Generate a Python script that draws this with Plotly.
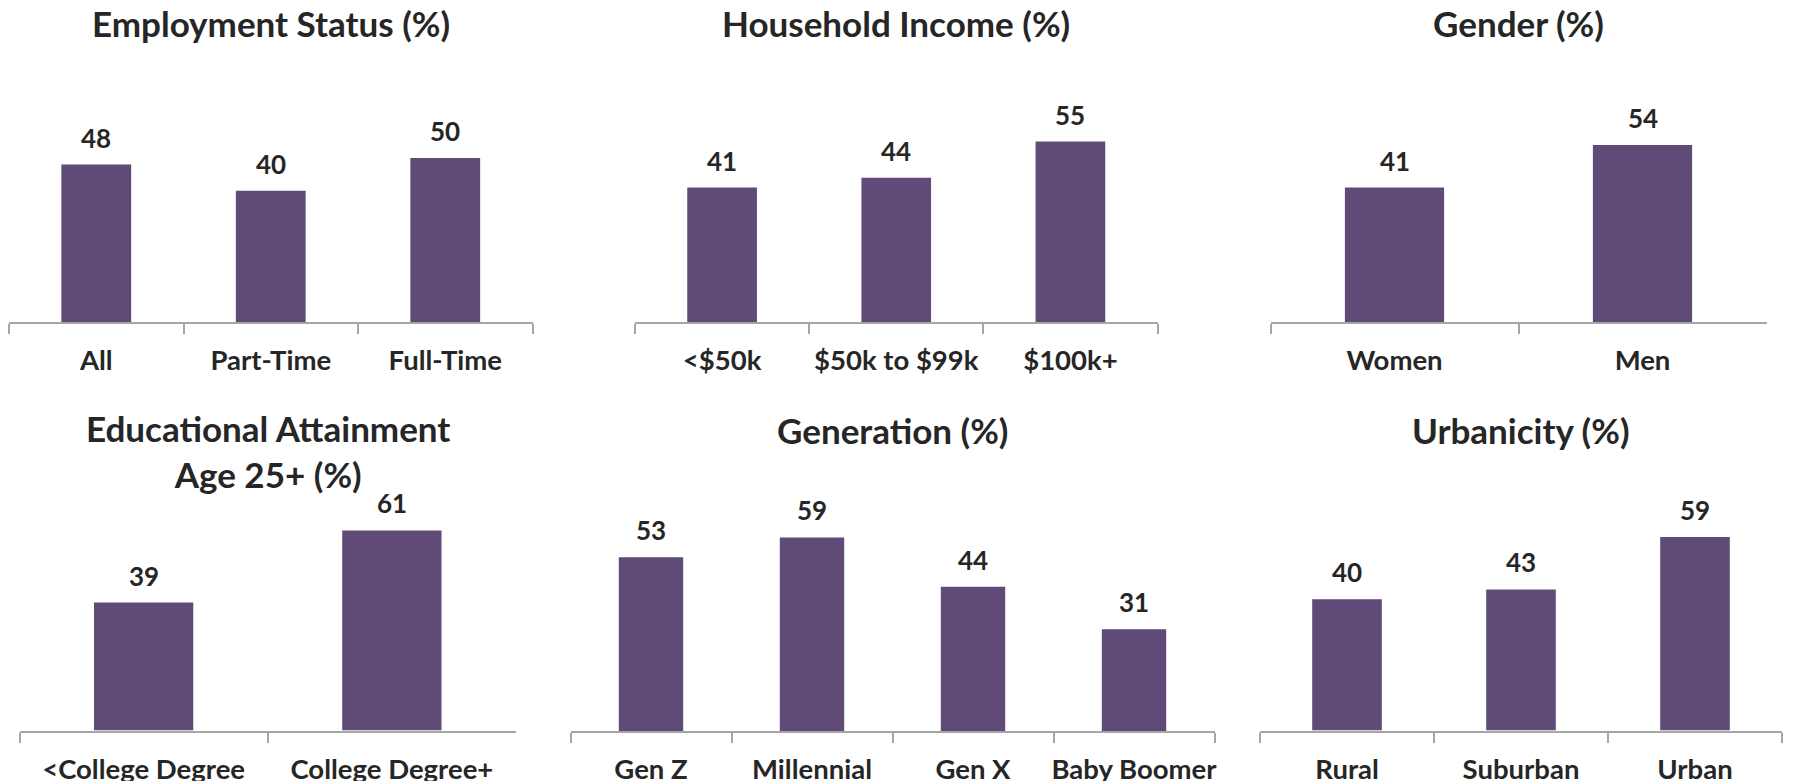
import plotly.graph_objects as go

# ---- data ----
emp_cats = ["All", "Part-Time", "Full-Time"]
emp_vals = [48, 40, 50]
inc_cats = ["<$50k", "$50k to $99k", "$100k+"]
inc_vals = [41, 44, 55]
gender_cats = ["Women", "Men"]
gender_vals = [41, 54]
edu_cats = ["<College Degree", "College Degree+"]
edu_vals = [39, 61]
gen_cats = ["Gen Z", "Millennial", "Gen X", "Baby Boomer"]
gen_vals = [53, 59, 44, 31]
urb_cats = ["Rural", "Suburban", "Urban"]
urb_vals = [40, 43, 59]

titles = ["Employment Status (%)", "Household Income (%)", "Gender (%)",
          "Educational Attainment<br>Age 25+ (%)", "Generation (%)", "Urbanicity (%)"]

# ---- layout geometry (page pixels) ----
W, H = 1793, 781
OFF = 8  # page body margin
PX_PER_UNIT = 3.28
panels = [
    # x0, x1, axis y, top y, title center y
    (9, 532.5, 322, 60, 23),
    (635, 1157.5, 322, 60, 23),
    (1270.5, 1766.5, 322, 60, 23),
    (19.5, 516, 730.5, 470, 451),
    (570.5, 1214.5, 731, 470, 430),
    (1260, 1782, 730.5, 470, 430),
]
series = [(emp_cats, emp_vals), (inc_cats, inc_vals), (gender_cats, gender_vals),
          (edu_cats, edu_vals), (gen_cats, gen_vals), (urb_cats, urb_vals)]

BAR = "#5f4a78"
TXT = "#262626"
AX = "#a6a6a6"
FONT = "Lato"


def fx(px):
    return (px - OFF) / W


def fy(py):
    return 1 - (py - OFF) / H


fig = go.Figure()
annotations = []
for i, ((cats, vals), (x0, x1, yb, yt, ty), title) in enumerate(zip(series, panels, titles)):
    n = i + 1
    xa = "x" if n == 1 else f"x{n}"
    ya = "y" if n == 1 else f"y{n}"
    fig.add_trace(go.Bar(x=cats, y=vals, marker=dict(color=BAR, line=dict(width=0)),
                         xaxis=xa, yaxis=ya, hoverinfo="x+y"))
    key = "" if n == 1 else str(n)
    fig.layout[f"xaxis{key}"] = dict(
        domain=[fx(x0), fx(x1)], anchor=ya, type="category",
        range=[-0.5, len(cats) - 0.5], tickson="boundaries",
        ticks="outside", ticklen=10, tickwidth=2, tickcolor=AX,
        showline=True, linecolor=AX, linewidth=2, showgrid=False, zeroline=False,
        tickfont=dict(family=FONT, size=27.5, color=TXT, weight="bold"),
        ticklabelstandoff=13, tickangle=0, automargin=False, fixedrange=True,
    )
    fig.layout[f"yaxis{key}"] = dict(
        domain=[fy(yb), fy(yt)], anchor=xa,
        range=[0, (yb - yt) / PX_PER_UNIT], visible=False,
        automargin=False, fixedrange=True,
    )
    for c, v in zip(cats, vals):
        annotations.append(dict(x=c, y=v, xref=xa, yref=ya, text=str(v), showarrow=False,
                                yshift=27, yanchor="middle",
                                font=dict(family=FONT, size=26, color=TXT, weight="bold")))
    annotations.append(dict(x=fx((x0 + x1) / 2), y=fy(ty), xref="paper", yref="paper",
                            text=title, showarrow=False, xanchor="center", yanchor="middle",
                            font=dict(family=FONT, size=35, color=TXT, weight="bold")))

fig.update_layout(
    width=W, height=H, margin=dict(l=0, r=0, t=0, b=0, autoexpand=False),
    paper_bgcolor="white", plot_bgcolor="white",
    showlegend=False, bargap=0.6, annotations=annotations,
)
fig.write_html("out.html")
